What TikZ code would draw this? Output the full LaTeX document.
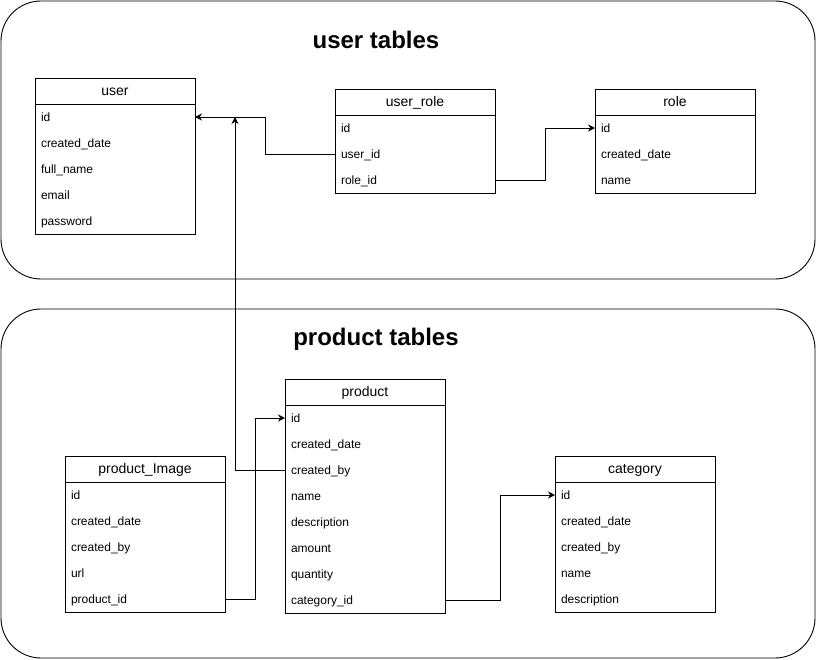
\documentclass[tikz,border=0pt]{standalone}
\usepackage{fontspec}
\setmainfont{Liberation Sans}
\usetikzlibrary{arrows.meta}

\tikzset{
  tblhead/.style={draw, line width=0.9pt, minimum width=160pt, minimum height=26pt, inner sep=0pt, outer sep=0pt, text height=9pt, text depth=0pt, font=\fontsize{14}{16}\selectfont},
  tblrow/.style={text width=148pt, minimum height=26pt, inner xsep=6pt, inner ysep=0pt, outer sep=0pt, text height=8pt, text depth=0pt, align=left, font=\fontsize{12}{14}\selectfont},
  fk/.style={line width=0.9pt, -{Stealth[length=7pt,width=7pt]}},
  group/.style={line width=0.9pt, rounded corners=40pt},
  grouptitle/.style={font=\fontsize{24}{28}\selectfont\bfseries}
}

% name, left, top, title, rows, fields
\newcommand{\dbtable}[6]{
  \node[tblhead] (#1) at ({#2+80},{#3+13}) {#4};
  \foreach \f [count=\i] in {#6}{
    \node[tblrow] (#1-\i) at ({#2+80},{#3+13+26*\i}) {\f};
  }
  \draw[line width=0.9pt] (#1.north west) rectangle (#1-#5.south east);
}

\begin{document}
\begin{tikzpicture}[x=1pt,y=-1pt]
	\useasboundingbox (0,0) rectangle (816,659);
	\draw[group] (1,1) rectangle (815,279);
	\draw[group] (1,309) rectangle (815,658);
	\node[grouptitle] (usertitle) at (376,40) {user tables};
	\node[grouptitle] (producttitle) at (376,339) {product tables};

	\dbtable{user}{35}{78}{user}{5}{id,created\_date,full\_name,email,password}
	\dbtable{userrole}{335}{89}{user\_role}{3}{id,user\_id,role\_id}
	\dbtable{role}{595}{89}{role}{3}{id,created\_date,name}
	\dbtable{product}{285}{379}{product}{8}{id,created\_date,created\_by,name,description,amount,quantity,category\_id}
	\dbtable{productimage}{65}{456}{product\_Image}{5}{id,created\_date,created\_by,url,product\_id}
	\dbtable{category}{555}{456}{category}{5}{id,created\_date,created\_by,name,description}

	\draw[fk] (userrole-2.west) -- ++(-70,0) |- (user-1.east);
	\draw[fk] (userrole-3.east) -- ++(50,0) |- (role-1.west);
	\coordinate (meet) at ([xshift=40pt]user-1.east);
	\draw[fk] (product-3.west) -| (meet);
	\draw[fk] (productimage-5.east) -- ++(30,0) |- (product-1.west);
	\draw[fk] (product-8.east) -- ++(55,0) |- (category-1.west);
\end{tikzpicture}
\end{document}
